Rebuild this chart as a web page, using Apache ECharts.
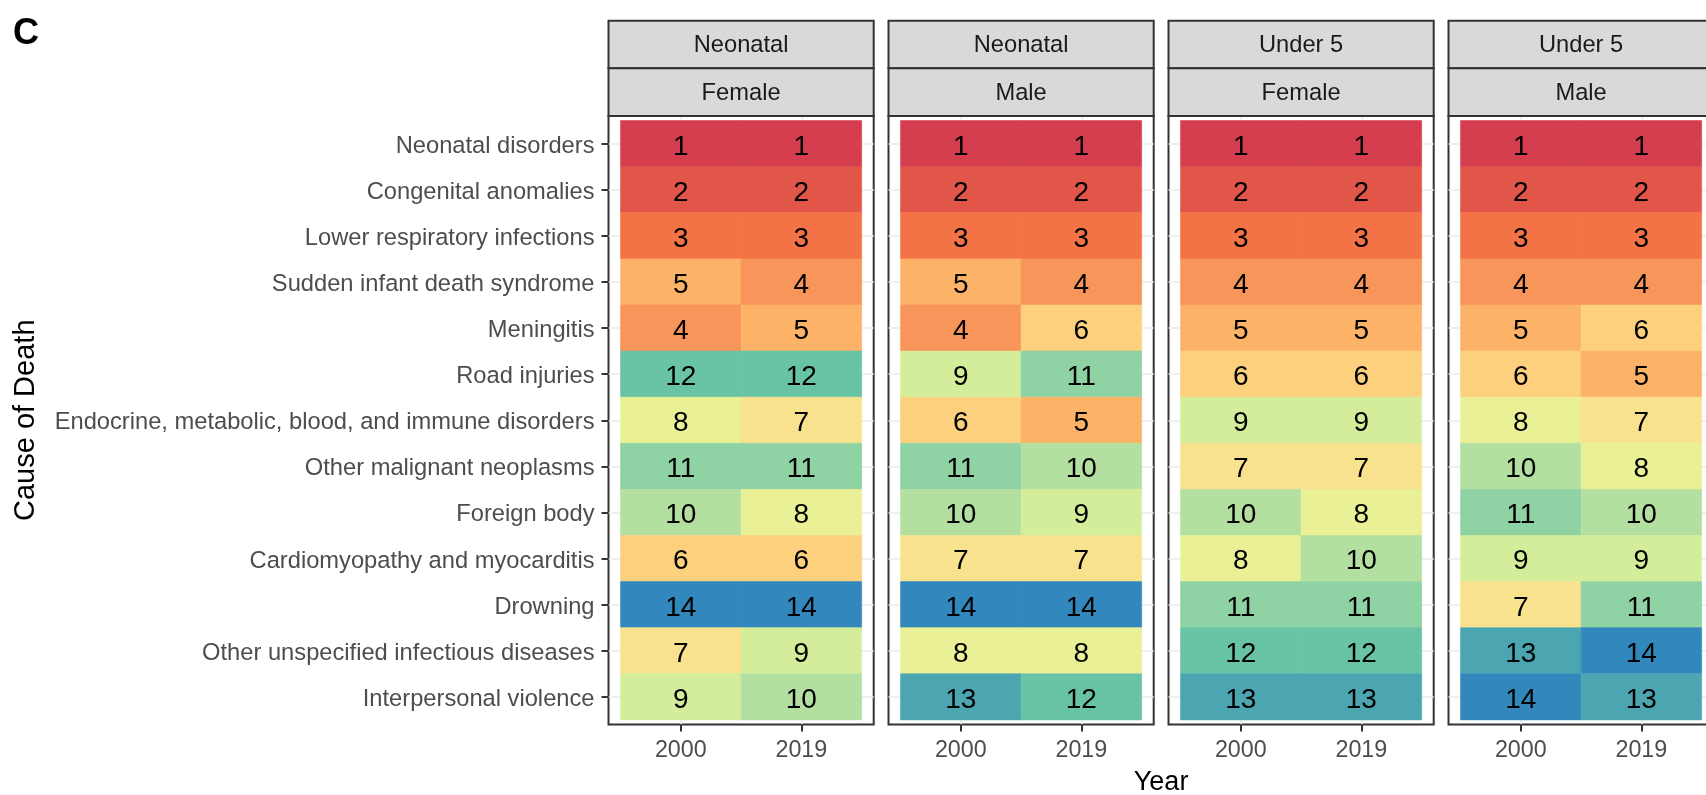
<!DOCTYPE html>
<html>
<head>
<meta charset="utf-8">
<title>Cause of death ranks by age group and sex</title>
<script src="https://cdn.jsdelivr.net/npm/echarts@6/dist/echarts.min.js"></script>
<style>
  html, body { margin: 0; padding: 0; background: #ffffff; overflow: hidden; }
  #chart { width: 1706px; height: 795px; }
</style>
</head>
<body>
<div id="chart"></div>
<script>
// Causes of death, listed top to bottom
const causes = [
  'Neonatal disorders',
  'Congenital anomalies',
  'Lower respiratory infections',
  'Sudden infant death syndrome',
  'Meningitis',
  'Road injuries',
  'Endocrine, metabolic, blood, and immune disorders',
  'Other malignant neoplasms',
  'Foreign body',
  'Cardiomyopathy and myocarditis',
  'Drowning',
  'Other unspecified infectious diseases',
  'Interpersonal violence'
];
const years = ['2000', '2019'];

// Facet labels
const ageGroups = ['Neonatal', 'Neonatal', 'Under 5', 'Under 5'];
const sexes = ['Female', 'Male', 'Female', 'Male'];

// Ranks per cause (same order as causes)
const neonatalFemale2000 = [1, 2, 3, 5, 4, 12, 8, 11, 10, 6, 14, 7, 9];
const neonatalFemale2019 = [1, 2, 3, 4, 5, 12, 7, 11, 8, 6, 14, 9, 10];
const neonatalMale2000   = [1, 2, 3, 5, 4, 9, 6, 11, 10, 7, 14, 8, 13];
const neonatalMale2019   = [1, 2, 3, 4, 6, 11, 5, 10, 9, 7, 14, 8, 12];
const under5Female2000   = [1, 2, 3, 4, 5, 6, 9, 7, 10, 8, 11, 12, 13];
const under5Female2019   = [1, 2, 3, 4, 5, 6, 9, 7, 8, 10, 11, 12, 13];
const under5Male2000     = [1, 2, 3, 4, 5, 6, 8, 10, 11, 9, 7, 13, 14];
const under5Male2019     = [1, 2, 3, 4, 6, 5, 7, 8, 10, 9, 11, 14, 13];

const panelRanks = [
  [neonatalFemale2000, neonatalFemale2019],
  [neonatalMale2000, neonatalMale2019],
  [under5Female2000, under5Female2019],
  [under5Male2000, under5Male2019]
];

// Spectral-style fill, one colour per rank (1 = red ... 14 = blue)
const rankColors = [
  '#D53E4F', '#E25549', '#F47346', '#F8955A', '#FDB367', '#FDD07E', '#F8E28E',
  '#E9F096', '#D4ED9B', '#B3E0A0', '#8FD2A3', '#69C3A5', '#4BA6B1', '#3288BD'
];

const FONT = '"Liberation Sans", Arial, Helvetica, sans-serif';

// Layout
const panelLeft0 = 608.5, panelStep = 280, panelWidth = 265.2;
const panelTop = 116, panelHeight = 608.5;
const stripTop = 20.7, stripHeight = 47.65;

const grids = [], xAxes = [], yAxes = [], series = [], graphics = [];

for (let k = 0; k < 4; k++) {
  const left = panelLeft0 + k * panelStep;
  grids.push({
    left: left, top: panelTop, width: panelWidth, height: panelHeight,
    show: true, borderColor: '#333333', borderWidth: 2,
    backgroundColor: 'transparent',
    containLabel: false, outerBoundsMode: 'none'
  });
  xAxes.push({
    type: 'value', gridIndex: k, min: 0.4, max: 2.6,
    axisLine: { show: false },
    axisTick: { show: true, length: 7, customValues: [1, 2],
                lineStyle: { color: '#333333', width: 2 } },
    axisLabel: { show: true, customValues: [1, 2], margin: 15,
                 color: '#4D4D4D', fontSize: 23.3, fontFamily: FONT,
                 formatter: v => years[Math.round(v) - 1] },
    splitLine: { show: true, lineStyle: { color: '#EBEBEB', width: 1.5 } }
  });
  const ticks = causes.map((c, i) => i + 1);
  yAxes.push({
    type: 'value', gridIndex: k, min: 0.4, max: 13.6, inverse: true,
    axisLine: { show: false },
    axisTick: { show: k === 0, length: 7, customValues: ticks,
                lineStyle: { color: '#333333', width: 2 } },
    // a short top-aligned line box sits each label just under its tick centre
    axisLabel: { show: k === 0, customValues: ticks, margin: 14,
                 verticalAlign: 'top', lineHeight: 5,
                 color: '#4D4D4D', fontSize: 23.7, fontFamily: FONT,
                 formatter: v => causes[Math.round(v) - 1] },
    splitLine: { show: true, lineStyle: { color: '#EBEBEB', width: 1.5 } }
  });

  const data = [];
  causes.forEach((c, i) => {
    panelRanks[k].forEach((arr, j) => {
      data.push([j + 1, i + 1, arr[i]]);
    });
  });

  series.push({
    type: 'custom', xAxisIndex: k, yAxisIndex: k,
    encode: { x: 0, y: 1 },
    data: data,
    renderItem: function (params, api) {
      const xv = api.value(0), yv = api.value(1), rank = api.value(2);
      const p1 = api.coord([xv - 0.5, yv - 0.5]);
      const p2 = api.coord([xv + 0.5, yv + 0.5]);
      const x = Math.min(p1[0], p2[0]), y = Math.min(p1[1], p2[1]);
      const w = Math.abs(p2[0] - p1[0]), h = Math.abs(p2[1] - p1[1]);
      const color = rankColors[rank - 1];
      return {
        type: 'group',
        children: [
          { type: 'rect', shape: { x: x, y: y, width: w, height: h },
            style: { fill: color, stroke: color, lineWidth: 0.6 } },
          { type: 'text', x: x + w / 2, y: y + h / 2 + 3.2,
            style: { text: String(rank), fill: '#000000',
                     font: '28px ' + FONT, align: 'center', verticalAlign: 'middle' } }
        ]
      };
    }
  });

  // Facet strips
  [ageGroups[k], sexes[k]].forEach((label, s) => {
    const sy = stripTop + s * stripHeight;
    graphics.push({
      type: 'rect', z: 10,
      shape: { x: left, y: sy, width: panelWidth, height: stripHeight },
      style: { fill: '#D9D9D9', stroke: '#333333', lineWidth: 2 }
    });
    graphics.push({
      type: 'text', z: 11, x: left + panelWidth / 2, y: sy + stripHeight / 2 + 1,
      style: { text: label, fill: '#1A1A1A', font: '23.7px ' + FONT,
               align: 'center', verticalAlign: 'middle' }
    });
  });
}

// Panel tag and axis titles
graphics.push({
  type: 'text', x: 13, y: 34.2,
  style: { text: 'C', fill: '#000000', font: 'bold 36px ' + FONT,
           align: 'left', verticalAlign: 'middle' }
});
graphics.push({
  type: 'text', x: panelLeft0 + (3 * panelStep + panelWidth) / 2, y: 783,
  style: { text: 'Year', fill: '#000000', font: '27px ' + FONT,
           align: 'center', verticalAlign: 'middle' }
});
graphics.push({
  type: 'text', x: 26, y: panelTop + panelHeight / 2, rotation: Math.PI / 2,
  style: { text: 'Cause of Death', fill: '#000000', font: '29px ' + FONT,
           align: 'center', verticalAlign: 'middle' }
});

const chart = echarts.init(document.getElementById('chart'), null, { renderer: 'canvas', width: 1706, height: 795 });
chart.setOption({
  animation: false,
  backgroundColor: '#ffffff',
  textStyle: { fontFamily: FONT },
  grid: grids,
  xAxis: xAxes,
  yAxis: yAxes,
  series: series,
  graphic: { elements: graphics }
});
</script>
</body>
</html>
